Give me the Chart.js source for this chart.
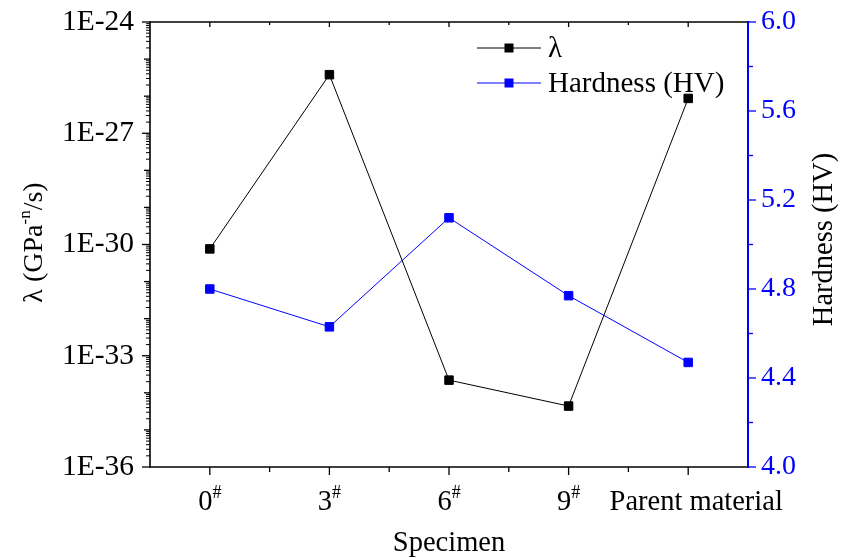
<!DOCTYPE html>
<html>
<head>
<meta charset="utf-8">
<script src="https://cdn.jsdelivr.net/npm/chart.js@4.4.0/dist/chart.umd.min.js"></script>
<style>
  html, body { margin: 0; padding: 0; background: #fff; }
  #grafico { display: block; }
</style>
</head>
<body>
<canvas id="grafico" width="849" height="558"></canvas>
<script>
const especimes = ["0#", "3#", "6#", "9#", "Parent material"];
const lambda = [7.6e-31, 3.8e-26, 2.2e-34, 4.4e-35, 8.7e-27];
const dureza = [4.80, 4.63, 5.12, 4.77, 4.47];
const expoentesLambda = [-36, -33, -30, -27, -24];
const ticksDureza = [4.0, 4.4, 4.8, 5.2, 5.6, 6.0];

const FONTE = "'Liberation Serif', 'Times New Roman', serif";
const AZUL = "#0000ff";

// texto com sobrescrito (ex.: 0#, GPa-n)
function textoSobrescrito(ctx, partes, x, y, tam, alinhar) {
  const tamSup = Math.round(tam * 0.62);
  let total = 0;
  partes.forEach((p) => {
    ctx.font = `${p.sup ? tamSup : tam}px ${FONTE}`;
    p.w = ctx.measureText(p.t).width;
    total += p.w;
  });
  let cx = alinhar === "center" ? x - total / 2 : x;
  ctx.textAlign = "left";
  ctx.textBaseline = "alphabetic";
  partes.forEach((p) => {
    ctx.font = `${p.sup ? tamSup : tam}px ${FONTE}`;
    ctx.fillText(p.t, cx, p.sup ? y - tam * 0.42 : y);
    cx += p.w;
  });
}

function linha(ctx, x1, y1, x2, y2) {
  ctx.beginPath();
  ctx.moveTo(x1, y1);
  ctx.lineTo(x2, y2);
  ctx.stroke();
}

// eixo com largura fixa e sem folga extra em cima/embaixo
function larguraFixa(largura) {
  return (s) => {
    s.width = largura;
    s.paddingTop = 0;
    s.paddingBottom = 0;
  };
}

const moldura = {
  id: "moldura",
  afterDatasetsDraw(chart) {
    const ctx = chart.ctx;
    const a = chart.chartArea;
    const sx = chart.scales.x;
    const sy = chart.scales.y;
    const sy1 = chart.scales.y1;
    ctx.save();

    // eixos
    ctx.lineWidth = 1.6;
    ctx.strokeStyle = "#000";
    linha(ctx, a.left, a.top, a.right, a.top);
    linha(ctx, a.left, a.bottom, a.right + 1, a.bottom);
    linha(ctx, a.left, a.top - 0.8, a.left, a.bottom + 0.8);
    ctx.strokeStyle = AZUL;
    ctx.lineWidth = 2;
    linha(ctx, a.right, a.top - 1, a.right, a.bottom + 1);

    // marcas do eixo log (esquerda)
    ctx.strokeStyle = "#000";
    ctx.lineWidth = 1.3;
    for (let e = expoentesLambda[0]; e <= expoentesLambda[expoentesLambda.length - 1]; e++) {
      const y = sy.getPixelForValue(Math.pow(10, e));
      const tam = expoentesLambda.includes(e) ? 8 : 6;
      linha(ctx, a.left, y, a.left - tam, y);
      if (e < expoentesLambda[expoentesLambda.length - 1]) {
        ctx.lineWidth = 1;
        for (let k = 2; k <= 9; k++) {
          const ym = sy.getPixelForValue(k * Math.pow(10, e));
          linha(ctx, a.left, ym, a.left - 4, ym);
        }
        ctx.lineWidth = 1.3;
      }
    }

    // marcas da dureza (direita)
    ctx.strokeStyle = AZUL;
    for (let i = 0; i < ticksDureza.length; i++) {
      const y = sy1.getPixelForValue(ticksDureza[i]);
      linha(ctx, a.right, y, a.right + 8, y);
      if (i < ticksDureza.length - 1) {
        const ym = sy1.getPixelForValue((ticksDureza[i] + ticksDureza[i + 1]) / 2);
        linha(ctx, a.right, ym, a.right + 5, ym);
      }
    }

    // marcas do eixo x (embaixo para fora, em cima para dentro)
    ctx.strokeStyle = "#000";
    for (let i = 0; i < especimes.length; i++) {
      const x = sx.getPixelForValue(i);
      linha(ctx, x, a.bottom, x, a.bottom + 8);
      linha(ctx, x, a.top, x, a.top + 5);
      if (i < especimes.length - 1) {
        const xm = sx.getPixelForValue(i + 0.5);
        linha(ctx, xm, a.bottom, xm, a.bottom + 5);
        linha(ctx, xm, a.top, xm, a.top + 3);
      }
    }

    // rótulos do eixo x (o último, mais longo, fica um pouco à direita)
    ctx.fillStyle = "#000";
    especimes.forEach((nome, i) => {
      let x = sx.getPixelForValue(i);
      const partes = nome.split("#");
      const pedacos = [{ t: partes[0] }];
      if (nome.includes("#")) pedacos.push({ t: "#", sup: true });
      else x += 8;
      textoSobrescrito(ctx, pedacos, x, 510, 28.5, "center");
    });

    // títulos
    textoSobrescrito(ctx, [{ t: "Specimen" }], (a.left + a.right) / 2, 551, 28.5, "center");

    ctx.save();
    ctx.translate(42, (a.top + a.bottom) / 2 - 2);
    ctx.rotate(-Math.PI / 2);
    textoSobrescrito(ctx, [{ t: "λ (GPa" }, { t: "-n", sup: true }, { t: "/s)" }], 0, 0, 28, "center");
    ctx.restore();

    ctx.save();
    ctx.translate(832, (a.top + a.bottom) / 2 - 5);
    ctx.rotate(-Math.PI / 2);
    textoSobrescrito(ctx, [{ t: "Hardness (HV)" }], 0, 0, 28.5, "center");
    ctx.restore();

    // legenda
    const posLegenda = [57, 92];
    chart.data.datasets.forEach((ds, i) => {
      const yc = posLegenda[i] - 9;
      ctx.strokeStyle = ds.borderColor;
      ctx.lineWidth = 1;
      linha(ctx, 477, yc, 541, yc);
      ctx.fillStyle = ds.backgroundColor;
      ctx.fillRect(504.5, yc - 4.5, 9, 9);
      ctx.fillStyle = "#000";
      ctx.font = `29px ${FONTE}`;
      ctx.textAlign = "left";
      ctx.textBaseline = "alphabetic";
      ctx.fillText(ds.label, 548, posLegenda[i]);
    });

    ctx.restore();
  },
};

const ctx = document.getElementById("grafico");

window.meuGrafico = new Chart(ctx, {
  type: "line",
  data: {
    labels: especimes,
    datasets: [
      {
        label: "λ",
        data: lambda,
        yAxisID: "y",
        borderColor: "#000000",
        backgroundColor: "#000000",
        borderWidth: 1,
        pointStyle: "rect",
        pointRadius: 6,
        pointBorderWidth: 1,
        tension: 0,
      },
      {
        label: "Hardness (HV)",
        data: dureza,
        yAxisID: "y1",
        borderColor: AZUL,
        backgroundColor: AZUL,
        borderWidth: 1,
        pointStyle: "rect",
        pointRadius: 6,
        pointBorderWidth: 1,
        tension: 0,
      },
    ],
  },
  options: {
    responsive: false,
    animation: false,
    devicePixelRatio: 1,
    layout: { padding: { top: 22, left: 0, right: 0, bottom: 0 } },
    plugins: {
      legend: { display: false },
      tooltip: { enabled: false },
    },
    scales: {
      x: {
        type: "category",
        offset: true,
        grid: { display: false, drawTicks: false },
        border: { display: false },
        ticks: { display: false },
        afterFit: (s) => {
          s.height = 91;
          s.paddingLeft = 0;
          s.paddingRight = 0;
        },
      },
      y: {
        type: "logarithmic",
        position: "left",
        min: 1e-36,
        max: 1e-24,
        afterBuildTicks: (s) => {
          s.ticks = expoentesLambda.map((e) => ({ value: Math.pow(10, e) }));
        },
        grid: { display: false, drawTicks: false },
        border: { display: false },
        ticks: {
          padding: 16,
          color: "#000",
          font: { family: FONTE, size: 29.5 },
          callback: (v) => "1E" + Math.round(Math.log10(v)),
        },
        afterFit: larguraFixa(150),
      },
      y1: {
        type: "linear",
        position: "right",
        min: 4,
        max: 6,
        afterBuildTicks: (s) => {
          s.ticks = ticksDureza.map((v) => ({ value: v }));
        },
        grid: { display: false, drawTicks: false },
        border: { display: false },
        ticks: {
          padding: 13,
          color: AZUL,
          font: { family: FONTE, size: 28 },
          callback: (v) => v.toFixed(1),
        },
        afterFit: larguraFixa(101),
      },
    },
  },
  plugins: [moldura],
});
</script>
</body>
</html>
